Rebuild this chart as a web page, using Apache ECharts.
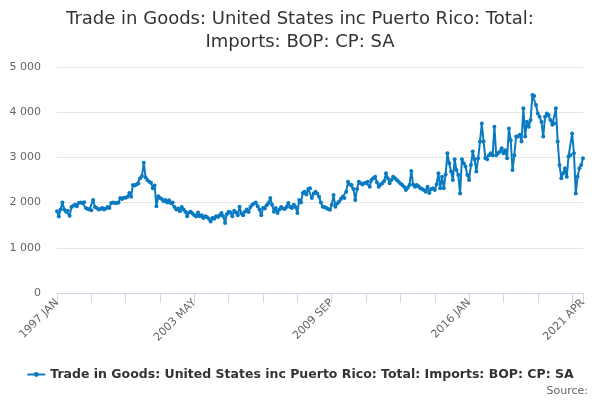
<!DOCTYPE html>
<html>
<head>
  <meta charset="utf-8">
  <title>Trade in Goods: United States inc Puerto Rico</title>
  <script src="https://cdn.jsdelivr.net/npm/echarts@6/dist/echarts.min.js"></script>
  <style>
    html, body { margin: 0; padding: 0; background: #fff; }
    #main { width: 600px; height: 400px; }
  </style>
</head>
<body>
  <div id="main"></div>
  <script>
  // monthly values (1997 JAN .. 2021 APR)
  var y1997_2001 = [
    1810, 1690, 1850, 2000, 1850, 1800, 1820, 1710, 1900, 1930, 1950, 1920,
    1990, 2000, 1990, 2010, 1880, 1860, 1850, 1830, 2060, 1900, 1880, 1850,
    1860, 1880, 1850, 1870, 1900, 1880, 1990, 2000, 1990, 1990, 2000, 2100,
    2080, 2110, 2110, 2130, 2210, 2130, 2390, 2380, 2400, 2420, 2540, 2590,
    2880, 2560, 2500, 2460, 2440, 2320, 2380, 1920, 2140, 2100, 2080, 2030
  ];
  var y2002_2006 = [
    2060, 2000, 2050, 1990, 2000, 1900, 1850, 1870, 1810, 1900, 1850, 1800,
    1700, 1780, 1800, 1760, 1720, 1690, 1780, 1700, 1720, 1660, 1700, 1680,
    1640, 1580, 1660, 1640, 1700, 1680, 1720, 1770, 1700, 1550, 1750, 1800,
    1780, 1700, 1820, 1780, 1720, 1910, 1760, 1720, 1800, 1850, 1790, 1900,
    1950, 1980, 2000, 1920, 1850, 1720, 1880, 1870, 1940, 1990, 2100, 1950
  ];
  var y2007_2011 = [
    1800, 1880, 1770, 1850, 1900, 1870, 1860, 1900, 1990, 1900, 1880, 1950,
    1900, 1770, 2060, 2000, 2210, 2240, 2180, 2300, 2320, 2100, 2200, 2240,
    2200, 2130, 2000, 1910, 1900, 1880, 1860, 1840, 1950, 2170, 1910, 1980,
    2020, 2080, 2130, 2100, 2240, 2460, 2400, 2390, 2300, 2060, 2300, 2460,
    2430, 2400, 2430, 2440, 2460, 2350, 2500, 2540, 2570, 2450, 2350, 2400
  ];
  var y2012_2016 = [
    2430, 2480, 2650, 2540, 2430, 2500, 2570, 2540, 2500, 2460, 2420, 2390,
    2350, 2280, 2330, 2390, 2700, 2400, 2350, 2390, 2360, 2320, 2300, 2280,
    2240, 2350, 2210, 2300, 2320, 2280, 2400, 2650, 2320, 2570, 2320, 2620,
    3090, 2870, 2690, 2500, 2960, 2720, 2610, 2200, 2960, 2870, 2800, 2610,
    2500, 2830, 3130, 2960, 2690, 2980, 3350, 3750, 3350, 2980, 2960, 3050
  ];
  var y2017_2021 = [
    3090, 3050, 3680, 3050, 3090, 3130, 3200, 3090, 3160, 2980, 3640, 3380,
    2720, 3050, 3460, 3460, 3500, 3350, 4085, 3460, 3790, 3680, 3830, 4380,
    4360, 4160, 3970, 3900, 3790, 3460, 3900, 3970, 3940, 3830, 3720, 3750,
    4085, 3350, 2830, 2540, 2650, 2760, 2570, 3020, 3050, 3530, 3090, 2200,
    2570, 2760, 2830, 2980
  ];
  var values = y1997_2001.concat(y2002_2006, y2007_2011, y2012_2016, y2017_2021);

  var monthNames = ['JAN', 'FEB', 'MAR', 'APR', 'MAY', 'JUN', 'JUL', 'AUG', 'SEP', 'OCT', 'NOV', 'DEC'];
  var categories = [];
  for (var i = 0; i < values.length; i++) {
    categories.push((1997 + Math.floor(i / 12)) + ' ' + monthNames[i % 12]);
  }
  var yTicks = [0, 1000, 2000, 3000, 4000, 5000];

  var seriesName = 'Trade in Goods: United States inc Puerto Rico: Total: Imports: BOP: CP: SA';
  var last = categories.length - 1;

  var chart = echarts.init(document.getElementById('main'));
  chart.setOption({
    animation: false,
    textStyle: { fontFamily: 'DejaVu Sans' },
    title: {
      text: 'Trade in Goods: United States inc Puerto Rico: Total:\nImports: BOP: CP: SA',
      left: 'center',
      top: 3,
      textStyle: { fontSize: 18, fontWeight: 'normal', color: '#333', lineHeight: 23 }
    },
    legend: {
      data: [seriesName],
      bottom: 14,
      left: 'center',
      itemWidth: 18,
      itemHeight: 6,
      itemGap: 6,
      textStyle: { fontSize: 12.5, fontWeight: 'bold', color: '#333' }
    },
    graphic: [{
      type: 'text',
      right: 12,
      bottom: 3,
      style: { text: 'Source:', fill: '#666', fontSize: 11, fontFamily: 'DejaVu Sans' }
    }],
    grid: { left: 57, right: 17, top: 67, bottom: 107 },
    xAxis: {
      type: 'category',
      data: categories,
      boundaryGap: false,
      axisLine: { lineStyle: { color: '#ccd6eb' } },
      axisTick: {
        length: 10,
        lineStyle: { color: '#ccd6eb' },
        interval: function (idx) { return idx % 19 === 0 || idx === last; }
      },
      axisLabel: {
        rotate: 45,
        color: '#666',
        fontSize: 11,
        margin: 8,
        interval: function (idx) { return idx % 76 === 0 || idx === last; }
      }
    },
    yAxis: {
      type: 'value',
      min: yTicks[0],
      max: yTicks[yTicks.length - 1],
      interval: 1000,
      axisLine: { show: false },
      axisTick: { show: false },
      splitLine: { lineStyle: { color: '#e6e6e6' } },
      axisLabel: {
        color: '#666',
        fontSize: 11,
        margin: 16,
        formatter: function (v) { return String(v).replace(/\B(?=(\d{3})+(?!\d))/g, ' '); }
      }
    },
    series: [{
      name: seriesName,
      type: 'line',
      data: values,
      color: '#0a7bc2',
      lineStyle: { width: 2 },
      symbol: 'circle',
      symbolSize: 4,
      showSymbol: true,
      showAllSymbol: true
    }]
  });
  </script>
</body>
</html>
